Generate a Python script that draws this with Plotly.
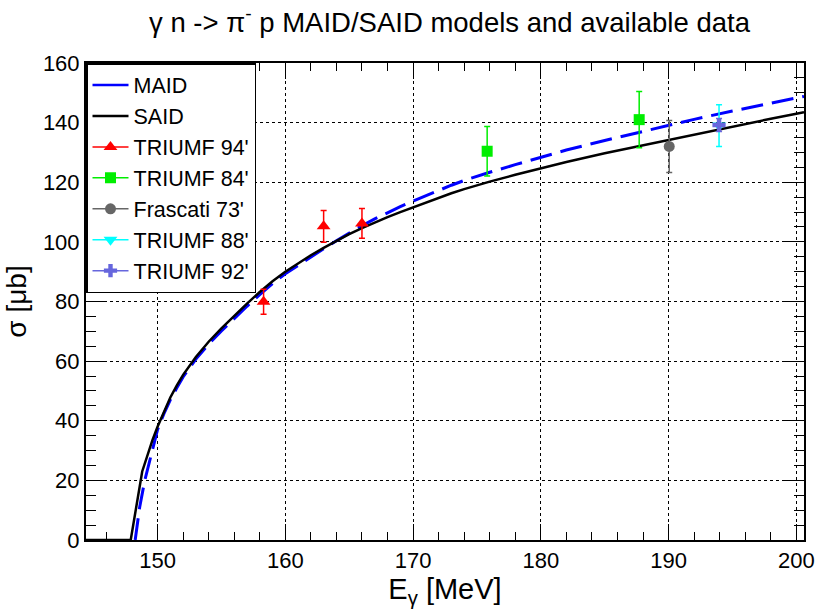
import plotly.graph_objects as go

# ---------------- data ----------------
said_E = [144.4, 147.9, 148.8, 149.2, 149.6, 150.0, 150.5, 151.0, 151.5, 152.0, 153.0, 154.0,
          155.0, 156.0, 157.0, 158.0, 159.0, 160.0, 161.0, 162.0, 163.0, 164.0, 165.0, 166.0,
          167.0, 168.0, 169.0, 170.0, 171.0, 172.0, 173.0, 174.0, 175.0, 176.0, 178.0, 180.0,
          182.0, 185.0, 188.0, 190.0, 192.0, 195.0, 198.0, 200.0, 200.6]
said_sigma = [0.0, 0.0, 23.0, 28.5, 33.5, 38.0, 43.2, 47.8, 51.8, 55.4, 61.4, 66.5,
              71.0, 75.3, 79.3, 83.2, 86.8, 90.0, 92.8, 95.5, 98.0, 100.4, 102.6, 104.6,
              106.5, 108.3, 110.0, 111.6, 113.2, 114.8, 116.3, 117.7, 119.0, 120.2, 122.5, 124.7,
              126.8, 129.7, 132.4, 134.3, 136.1, 138.8, 141.3, 143.0, 143.5]

maid_E = [148.25, 148.6, 149.0, 149.5, 150.0, 150.5, 151.0, 151.5, 152.0, 153.0, 154.0,
          155.0, 156.0, 157.0, 158.0, 159.0, 160.0, 161.0, 162.0, 163.0, 164.0, 165.0, 166.0,
          167.0, 168.0, 169.0, 170.0, 171.0, 172.0, 173.0, 174.0, 175.0, 176.0, 178.0, 180.0,
          182.0, 185.0, 188.0, 190.0, 192.0, 195.0, 198.0, 200.0, 200.6]
maid_sigma = [0.0, 11.0, 20.0, 29.0, 37.0, 42.4, 47.0, 51.0, 54.7, 60.7, 65.7,
              70.1, 74.4, 78.4, 82.3, 86.0, 89.3, 92.2, 95.0, 97.7, 100.4, 103.0, 105.4,
              107.7, 109.8, 111.8, 113.7, 115.5, 117.3, 119.0, 120.6, 122.0, 123.35, 125.9, 128.4,
              130.8, 134.0, 137.1, 139.1, 141.1, 143.9, 146.5, 148.3, 148.8]

t94_E = [158.3, 163.0, 166.0]
t94_sig = [79.9, 105.2, 106.2]
t94_err = [4.2, 5.3, 5.0]

t84_E = [175.8, 187.7]
t84_sig = [130.4, 141.0]
t84_err = [8.3, 9.4]

f73_E = [190.05]
f73_sig = [132.0]
f73_err = [8.7]

t88_E = [193.95]
t88_sig = [139.0]
t88_err = [7.0]

t92_E = [193.95]
t92_sig = [139.2]
t92_err = [2.2]

x_ticks = [150, 160, 170, 180, 190, 200]
y_ticks = [0, 20, 40, 60, 80, 100, 120, 140, 160]

FONT = "Liberation Sans, Arial, sans-serif"

fig = go.Figure()

# model curves
fig.add_trace(go.Scatter(x=maid_E, y=maid_sigma, mode="lines", showlegend=False,
                         line=dict(color="#0000FF", width=3, dash="22px,9px")))
fig.add_trace(go.Scatter(x=said_E, y=said_sigma, mode="lines", showlegend=False,
                         line=dict(color="#000000", width=2.5)))

# data sets
datasets = [
    ("TRIUMF 94'", t94_E, t94_sig, t94_err, "#FF0000", "triangle-up", 12),
    ("TRIUMF 84'", t84_E, t84_sig, t84_err, "#00EE00", "square", 11),
    ("Frascati 73'", f73_E, f73_sig, f73_err, "#666666", "circle", 11),
    ("TRIUMF 88'", t88_E, t88_sig, t88_err, "#00FFFF", "triangle-down", 12),
    ("TRIUMF 92'", t92_E, t92_sig, t92_err, "#6666DD", "cross", 11),
]
for name, xs, ys, es, col, sym, sz in datasets:
    fig.add_trace(go.Scatter(
        x=xs, y=ys, mode="markers", showlegend=False,
        marker=dict(color=col, symbol=sym, size=sz, line=dict(width=0)),
        error_y=dict(type="data", array=es, visible=True, color=col, thickness=1.5, width=3)))

# legend entries
legend_entries = [("MAID", "#0000FF", None, 0), ("SAID", "#000000", None, 0)] + \
    [(d[0], d[4], d[5], d[6]) for d in datasets]
for i, (name, col, sym, sz) in enumerate(legend_entries):
    if sym is None:
        fig.add_trace(go.Scatter(x=[None], y=[None], mode="lines", name=name,
                                 legendgroup=f"g{i}",
                                 line=dict(color=col, width=2.5)))
    else:
        fig.add_trace(go.Scatter(x=[None], y=[None], mode="lines+markers", name=name,
                                 legendgroup=f"g{i}",
                                 line=dict(color=col, width=1.5),
                                 marker=dict(color=col, symbol=sym, size=sz)))

axis_common = dict(
    showline=True, linecolor="black", linewidth=2, mirror="allticks",
    ticks="inside", tickcolor="black", tickwidth=1,
    showgrid=True, gridcolor="black", gridwidth=1, griddash="dot",
    zeroline=False,
    tickfont=dict(family=FONT, size=22, color="black"),
)

fig.update_layout(
    width=827, height=610,
    margin=dict(l=86, r=14, t=63, b=57),
    paper_bgcolor="white", plot_bgcolor="white",
    font=dict(family=FONT, color="black"),
    title=dict(text="γ n -> π<sup>-</sup> p MAID/SAID models and available data",
               x=(86 + 813) / 2 / 827, xanchor="center", y=1 - 22 / 610, yanchor="middle",
               font=dict(family=FONT, size=27.5, color="black")),
    xaxis=dict(range=[144.4, 200.6], tickvals=x_ticks, ticklen=16,
               minor=dict(ticks="inside", ticklen=8, dtick=2, tick0=0, tickcolor="black", showgrid=False),
               title=dict(text="E<sub>γ</sub> [MeV]", font=dict(family=FONT, size=29), standoff=4),
               **axis_common),
    yaxis=dict(range=[0, 160], tickvals=y_ticks, ticklen=20,
               minor=dict(ticks="inside", ticklen=10, dtick=5, tick0=0, tickcolor="black", showgrid=False),
               title=dict(text="σ [μb]", font=dict(family=FONT, size=28), standoff=8),
               **axis_common),
    legend=dict(x=0, y=1, xanchor="left", yanchor="top",
                bgcolor="white", bordercolor="black", borderwidth=1.5,
                font=dict(family=FONT, size=21.5, color="black"),
                tracegroupgap=0, itemwidth=36, entrywidth=140, traceorder="normal"),
)

fig.write_html("out.html")
